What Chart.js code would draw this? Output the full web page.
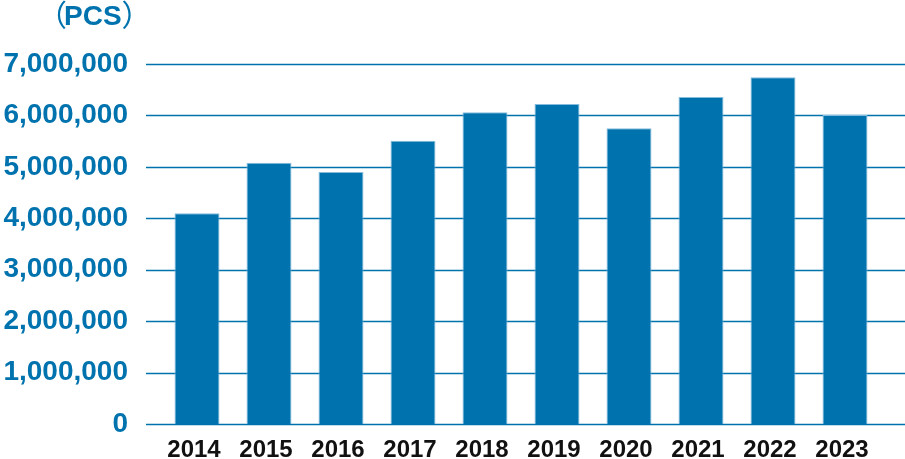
<!DOCTYPE html>
<html>
<head>
<meta charset="utf-8">
<script src="https://cdn.jsdelivr.net/npm/chart.js@4/dist/chart.umd.min.js"></script>
<style>
  html, body { margin: 0; padding: 0; background: #fff; }
  #wrap { width: 905px; height: 459px; position: relative; }
</style>
</head>
<body>
<div id="wrap"><canvas id="pcsChart"></canvas></div>
<script>
const years = ['2014', '2015', '2016', '2017', '2018', '2019', '2020', '2021', '2022', '2023'];
const pcs = [4100000, 5080000, 4900000, 5510000, 6060000, 6220000, 5750000, 6360000, 6740000, 6010000];
const yTicks = [0, 1000000, 2000000, 3000000, 4000000, 5000000, 6000000, 7000000];
const unitLabel = ['（', 'PCS', '）'];

const BLUE = '#0073ae';

// grid lines run past the plot on both sides, so draw them by hand
const wideGrid = {
  id: 'wideGrid',
  beforeDatasetsDraw(chart) {
    const { ctx, scales: { y }, chartArea } = chart;
    ctx.save();
    ctx.strokeStyle = BLUE;
    ctx.lineWidth = 1.5;
    yTicks.forEach(v => {
      const py = Math.round(y.getPixelForValue(v)) + 0.5;
      ctx.beginPath();
      ctx.moveTo(chartArea.left - 15, py);
      ctx.lineTo(chart.width, py);
      ctx.stroke();
    });
    ctx.restore();
  }
};

const unitTitle = {
  id: 'unitTitle',
  afterDraw(chart) {
    const ctx = chart.ctx;
    ctx.save();
    ctx.fillStyle = BLUE;
    ctx.textBaseline = 'alphabetic';
    let x = 37;
    const base = 25;
    ctx.font = '30px "Noto Sans CJK JP"';
    ctx.fillText(unitLabel[0], x, base + 1);
    x += ctx.measureText(unitLabel[0]).width - 3;
    ctx.font = 'bold 28px "Liberation Sans"';
    ctx.fillText(unitLabel[1], x, base);
    x += ctx.measureText(unitLabel[1]).width;
    ctx.font = '30px "Noto Sans CJK JP"';
    ctx.fillText(unitLabel[2], x, base + 1);
    ctx.restore();
  }
};

new Chart(document.getElementById('pcsChart'), {
  type: 'bar',
  data: {
    labels: years,
    datasets: [{
      data: pcs,
      backgroundColor: BLUE,
      borderColor: '#86bcdc',
      borderWidth: 1,
      categoryPercentage: 0.625,
      barPercentage: 1
    }]
  },
  options: {
    responsive: true,
    maintainAspectRatio: false,
    animation: false,
    layout: { padding: { top: 64, right: 24, left: 0, bottom: 0 } },
    plugins: {
      legend: { display: false },
      tooltip: { enabled: false }
    },
    scales: {
      x: {
        grid: { display: false, drawTicks: false },
        border: { display: false },
        afterFit: s => { s.height = 35; },
        ticks: {
          color: '#111',
          padding: 12,
          labelOffset: -3,
          font: { family: '"Liberation Sans"', size: 24, weight: 'bold' }
        }
      },
      y: {
        min: 0,
        max: 7000000,
        // tick marks hidden, their length only pushes the labels left
        grid: { display: false, drawTicks: true, tickLength: 20 },
        border: { display: false },
        afterFit: s => { s.width = 161; },
        afterBuildTicks: s => { s.ticks = yTicks.map(v => ({ value: v })); },
        ticks: {
          color: BLUE,
          padding: 13,
          font: { family: '"Liberation Sans"', size: 28, weight: 'bold' },
          callback: v => v.toLocaleString('en-US')
        }
      }
    }
  },
  plugins: [wideGrid, unitTitle]
});
</script>
</body>
</html>
